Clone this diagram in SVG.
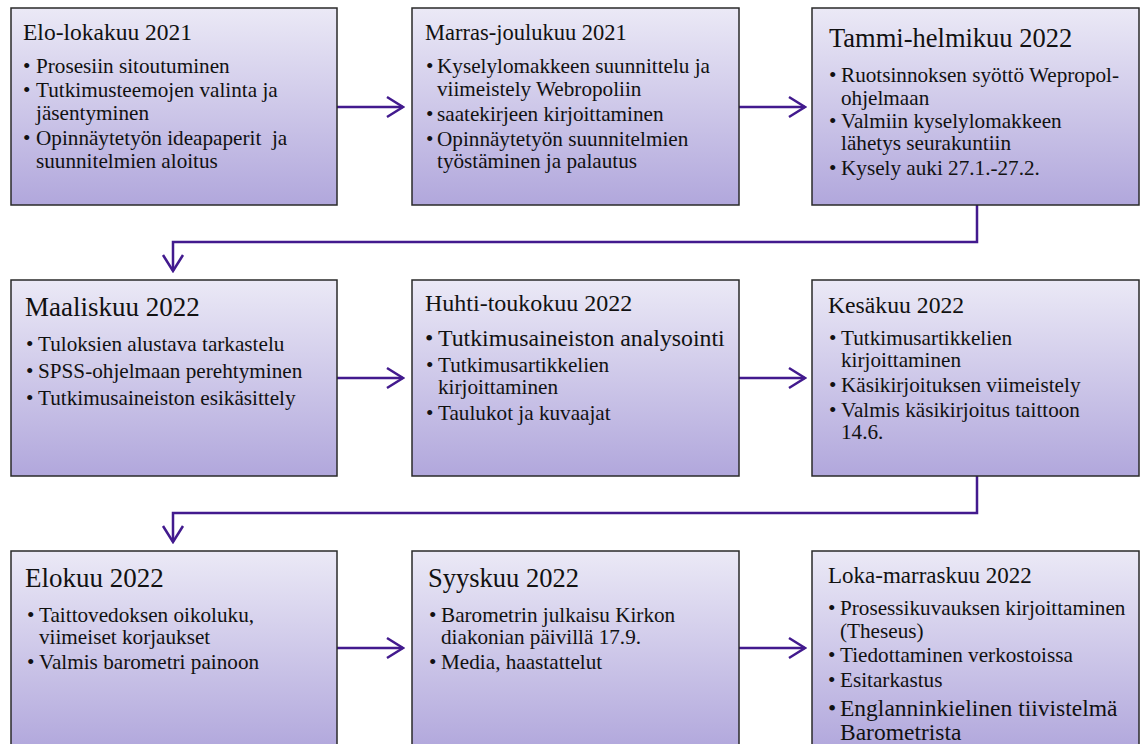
<svg xmlns="http://www.w3.org/2000/svg" width="1141" height="744" viewBox="0 0 1141 744">
<style>
.box{fill:url(#g);stroke:#2a2a2a;stroke-width:1.5}
text{font-family:"Liberation Serif","Times New Roman",serif;fill:#111}
.b{font-size:21.2px}
.c{fill:none;stroke:#421a8e;stroke-width:2.5}
</style>
<defs>
<linearGradient id="g" x1="0" y1="0" x2="0" y2="1">
<stop offset="0" stop-color="#ebe9f6"/>
<stop offset="1" stop-color="#b1a7dc"/>
</linearGradient>
<marker id="a" markerUnits="userSpaceOnUse" markerWidth="20" markerHeight="24" viewBox="-18 -12 20 24" refX="0" refY="0" orient="auto">
<path d="M-16,-10 L0,0 L-16,10" fill="none" stroke="#421a8e" stroke-width="2.5"/>
</marker>
</defs>
<g id="connectors">
<path class="c" d="M337,107 H403" marker-end="url(#a)"/>
<path class="c" d="M739,107 H805" marker-end="url(#a)"/>
<path class="c" d="M977,205 V242 H173 V271" marker-end="url(#a)"/>
<path class="c" d="M337,378 H403" marker-end="url(#a)"/>
<path class="c" d="M739,378 H805" marker-end="url(#a)"/>
<path class="c" d="M977,476 V513 H173 V542" marker-end="url(#a)"/>
<path class="c" d="M337,648 H403" marker-end="url(#a)"/>
<path class="c" d="M739,648 H805" marker-end="url(#a)"/>
</g>
<g id="n1">
<rect class="box" x="11" y="8" width="326" height="197"/>
<text x="23" y="40" font-size="23.5">Elo-lokakuu 2021</text>
<text class="b"><tspan x="23" y="73">•</tspan><tspan x="36" y="73">Prosesiin sitoutuminen</tspan><tspan x="23" y="97">•</tspan><tspan x="36" y="97">Tutkimusteemojen valinta ja</tspan><tspan x="36" y="120">jäsentyminen</tspan><tspan x="23" y="145">•</tspan><tspan x="36" y="145">Opinnäytetyön ideapaperit&#160; ja</tspan><tspan x="36" y="168">suunnitelmien aloitus</tspan></text>
</g>
<g id="n2">
<rect class="box" x="412" y="8" width="327" height="197"/>
<text x="425" y="40" font-size="22.5">Marras-joulukuu 2021</text>
<text class="b"><tspan x="426" y="73">•</tspan><tspan x="437" y="73">Kyselylomakkeen suunnittelu ja</tspan><tspan x="437" y="96">viimeistely Webropoliin</tspan><tspan x="426" y="121">•</tspan><tspan x="437" y="121">saatekirjeen kirjoittaminen</tspan><tspan x="426" y="146">•</tspan><tspan x="437" y="146">Opinnäytetyön suunnitelmien</tspan><tspan x="437" y="168">työstäminen ja palautus</tspan></text>
</g>
<g id="n3">
<rect class="box" x="812" y="8" width="327" height="197"/>
<text x="829" y="47" font-size="26.5">Tammi-helmikuu 2022</text>
<text class="b"><tspan x="829" y="82">•</tspan><tspan x="841" y="82">Ruotsinnoksen syöttö Wepropol-</tspan><tspan x="841" y="104.5">ohjelmaan</tspan><tspan x="829" y="128">•</tspan><tspan x="841" y="128">Valmiin kyselylomakkeen</tspan><tspan x="841" y="150">lähetys seurakuntiin</tspan><tspan x="829" y="175">•</tspan><tspan x="841" y="175">Kysely auki 27.1.-27.2.</tspan></text>
</g>
<g id="n4">
<rect class="box" x="11" y="280" width="326" height="196"/>
<text x="25" y="316" font-size="27">Maaliskuu 2022</text>
<text class="b"><tspan x="26" y="351">•</tspan><tspan x="38" y="351">Tuloksien alustava tarkastelu</tspan><tspan x="26" y="378">•</tspan><tspan x="38" y="378">SPSS-ohjelmaan perehtyminen</tspan><tspan x="26" y="405">•</tspan><tspan x="38" y="405">Tutkimusaineiston esikäsittely</tspan></text>
</g>
<g id="n5">
<rect class="box" x="412" y="280" width="327" height="196"/>
<text x="425" y="311" font-size="24">Huhti-toukokuu 2022</text>
<text class="b"><tspan x="425" y="346" font-size="23.8">•</tspan><tspan x="438" y="346" font-size="23.8">Tutkimusaineiston analysointi</tspan><tspan x="426" y="372">•</tspan><tspan x="438" y="372">Tutkimusartikkelien</tspan><tspan x="438" y="394">kirjoittaminen</tspan><tspan x="426" y="420">•</tspan><tspan x="438" y="420">Taulukot ja kuvaajat</tspan></text>
</g>
<g id="n6">
<rect class="box" x="812" y="280" width="327" height="196"/>
<text x="828" y="313" font-size="23.7">Kesäkuu 2022</text>
<text class="b"><tspan x="829" y="345">•</tspan><tspan x="841" y="345">Tutkimusartikkelien</tspan><tspan x="841" y="367">kirjoittaminen</tspan><tspan x="829" y="392">•</tspan><tspan x="841" y="392">Käsikirjoituksen viimeistely</tspan><tspan x="829" y="417">•</tspan><tspan x="841" y="417">Valmis käsikirjoitus taittoon</tspan><tspan x="841" y="439">14.6.</tspan></text>
</g>
<g id="n7">
<rect class="box" x="11" y="551" width="326" height="200"/>
<text x="25" y="587" font-size="27">Elokuu 2022</text>
<text class="b"><tspan x="27" y="622">•</tspan><tspan x="39" y="622">Taittovedoksen oikoluku,</tspan><tspan x="39" y="644">viimeiset korjaukset</tspan><tspan x="27" y="669">•</tspan><tspan x="39" y="669">Valmis barometri painoon</tspan></text>
</g>
<g id="n8">
<rect class="box" x="412" y="551" width="327" height="200"/>
<text x="428" y="587" font-size="26.5">Syyskuu 2022</text>
<text class="b"><tspan x="429" y="622">•</tspan><tspan x="441" y="622">Barometrin julkaisu Kirkon</tspan><tspan x="441" y="644">diakonian päivillä 17.9.</tspan><tspan x="429" y="669">•</tspan><tspan x="441" y="669">Media, haastattelut</tspan></text>
</g>
<g id="n9">
<rect class="box" x="812" y="551" width="327" height="200"/>
<text x="828" y="583" font-size="23">Loka-marraskuu 2022</text>
<text class="b"><tspan x="828" y="615">•</tspan><tspan x="840" y="615">Prosessikuvauksen kirjoittaminen</tspan><tspan x="840" y="638">(Theseus)</tspan><tspan x="828" y="662">•</tspan><tspan x="840" y="662">Tiedottaminen verkostoissa</tspan><tspan x="828" y="687">•</tspan><tspan x="840" y="687">Esitarkastus</tspan><tspan x="828" y="716" font-size="23.5">•</tspan><tspan x="840" y="716" font-size="23.5">Englanninkielinen tiivistelmä</tspan><tspan x="840" y="740" font-size="23.5">Barometrista</tspan></text>
</g>
</svg>
